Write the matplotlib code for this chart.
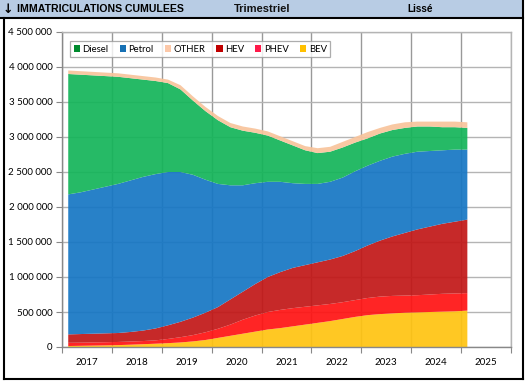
import matplotlib
matplotlib.use("Agg")
import matplotlib.pyplot as plt
import numpy as np
from matplotlib.patches import Rectangle
from matplotlib.lines import Line2D
from matplotlib.ticker import FuncFormatter, FixedLocator

# ---------------- data (cumulative tops, in millions) -------------
years = ["2017", "2018", "2019", "2020", "2021", "2022", "2023", "2024", "2025"]
n_quarters = 33  # 2017Q1 .. 2025Q1

bev_top = [0.014, 0.017, 0.020, 0.023, 0.027, 0.033, 0.040, 0.047, 0.055, 0.065, 0.080,
           0.100, 0.130, 0.160, 0.190, 0.220, 0.250, 0.270, 0.295, 0.320, 0.345, 0.370,
           0.400, 0.430, 0.455, 0.470, 0.480, 0.490, 0.495, 0.500, 0.505, 0.510, 0.520]
phev_top = [0.060, 0.062, 0.065, 0.068, 0.072, 0.078, 0.085, 0.095, 0.115, 0.140, 0.170,
            0.210, 0.260, 0.320, 0.390, 0.450, 0.500, 0.530, 0.555, 0.575, 0.595, 0.615,
            0.640, 0.670, 0.700, 0.720, 0.730, 0.735, 0.740, 0.750, 0.760, 0.765, 0.770]
hev_top = [0.180, 0.185, 0.190, 0.195, 0.200, 0.215, 0.235, 0.265, 0.310, 0.360, 0.420,
           0.490, 0.570, 0.680, 0.790, 0.900, 1.000, 1.070, 1.130, 1.170, 1.210, 1.250,
           1.300, 1.370, 1.450, 1.520, 1.580, 1.630, 1.680, 1.720, 1.760, 1.790, 1.820]
petrol_top = [2.18, 2.21, 2.25, 2.29, 2.33, 2.38, 2.43, 2.47, 2.50, 2.50, 2.46,
              2.39, 2.33, 2.31, 2.31, 2.34, 2.36, 2.36, 2.34, 2.33, 2.33, 2.36,
              2.42, 2.51, 2.59, 2.66, 2.72, 2.76, 2.79, 2.80, 2.81, 2.82, 2.82]
diesel_top = [3.90, 3.89, 3.88, 3.87, 3.86, 3.84, 3.82, 3.80, 3.77, 3.68, 3.52,
              3.37, 3.24, 3.14, 3.09, 3.06, 3.02, 2.95, 2.88, 2.81, 2.77, 2.79,
              2.85, 2.92, 2.98, 3.05, 3.10, 3.13, 3.15, 3.15, 3.14, 3.14, 3.13]
other_top = [3.95, 3.94, 3.93, 3.92, 3.91, 3.89, 3.87, 3.85, 3.82, 3.74, 3.58,
             3.43, 3.30, 3.20, 3.15, 3.12, 3.08, 3.01, 2.94, 2.87, 2.84, 2.86,
             2.93, 3.00, 3.07, 3.13, 3.18, 3.21, 3.22, 3.22, 3.22, 3.22, 3.21]

series_names = ["Diesel", "Petrol", "OTHER", "HEV", "PHEV", "BEV"]
fill_colors = {"BEV": "#ffc412", "PHEV": "#ff1414", "HEV": "#c21818",
               "Petrol": "#1777c4", "Diesel": "#15b55a", "OTHER": "#f8c49c"}
legend_colors = {"Diesel": "#008a2e", "Petrol": "#1670b4", "OTHER": "#fcc8a8",
                 "HEV": "#c00000", "PHEV": "#ff1a4a", "BEV": "#ffc000"}

# ---------------- derive layers ----------------
tops = {"BEV": np.array(bev_top), "PHEV": np.array(phev_top), "HEV": np.array(hev_top),
        "Petrol": np.array(petrol_top), "Diesel": np.array(diesel_top),
        "OTHER": np.array(other_top)}
order = ["BEV", "PHEV", "HEV", "Petrol", "Diesel", "OTHER"]
layers = []
prev = np.zeros(n_quarters)
for k in order:
    layers.append((tops[k] - prev) * 1e6)
    prev = tops[k]

x = np.arange(n_quarters) / 4.0 + 0.125

# ---------------- figure ----------------
W, H = 529, 385
fig = plt.figure(figsize=(W / 100, H / 100), dpi=100)
fig.patch.set_facecolor("white")

def fx(px):
    return px / W

def fy(py):
    return 1 - py / H

# title bar
fig.add_artist(Rectangle((0, fy(18)), fx(523), 18 / H, transform=fig.transFigure,
                         facecolor="#b8cce4", edgecolor="none", zorder=0))
for (x0, y0, x1, y1) in [(0, 18, 523, 18), (4, 18, 4, 379), (4, 379, 523, 379),
                         (523, 0, 523, 379)]:
    fig.add_artist(Line2D([fx(x0), fx(x1)], [fy(y0), fy(y1)], transform=fig.transFigure,
                          color="black", linewidth=1.5, zorder=5))

tfont = ["Liberation Sans", "DejaVu Sans"]
fig.text(fx(3), fy(9.5), "↓", family=["DejaVu Sans"], fontweight="bold",
         fontsize=9, va="center", ha="left")
fig.text(fx(17), fy(9.5), "IMMATRICULATIONS CUMULEES", family=tfont, fontweight="bold",
         fontsize=7.6, va="center", ha="left")
fig.text(fx(262), fy(9), "Trimestriel", family=tfont, fontweight="bold",
         fontsize=8, va="center", ha="center", color="#111111")
fig.text(fx(420), fy(9.5), "Lissé", family=tfont, fontweight="bold",
         fontsize=7.2, va="center", ha="center")

ax = fig.add_axes([fx(62), fy(347), fx(511) - fx(62), (347 - 32) / H])
ax.set_facecolor("white")

ax.stackplot(x, *layers, colors=[fill_colors[k] for k in order], alpha=0.93,
             linewidth=0, zorder=2)

ax.set_xlim(0, 9)
ax.set_ylim(0, 4.5e6)
ax.set_yticks(np.arange(0, 4.5e6 + 1, 5e5))
ax.yaxis.set_major_formatter(FuncFormatter(lambda v, p: f"{v:,.0f}".replace(",", " ")))

ax.xaxis.set_major_locator(FixedLocator(np.arange(0, 10)))
ax.xaxis.set_minor_locator(FixedLocator(np.arange(0.5, 9, 1)))
ax.set_xticklabels([], minor=False)
ax.set_xticklabels(years, minor=True)
ax.tick_params(axis="x", which="major", length=4, color="#888888", direction="out")
ax.tick_params(axis="x", which="minor", length=0, pad=8, labelsize=7, labelcolor="black")
ax.tick_params(axis="y", length=4, color="#888888", direction="out", labelsize=7, pad=3)
for lbl in ax.get_xticklabels(minor=True) + ax.get_yticklabels():
    lbl.set_family("Lato")

ax.set_axisbelow(True)
ax.grid(True, axis="y", color="#b4b4b4", linewidth=1, zorder=1)
ax.grid(True, axis="x", which="major", color="#999999", linewidth=1, zorder=1)
for s in ["left", "bottom"]:
    ax.spines[s].set_color("#888888")
    ax.spines[s].set_linewidth(1)
for s in ["top", "right"]:
    ax.spines[s].set_color("#b4b4b4")
    ax.spines[s].set_linewidth(1)

handles = [Rectangle((0, 0), 1, 1, facecolor=legend_colors[k], edgecolor="none")
           for k in series_names]
leg = ax.legend(handles, series_names, loc="upper left", bbox_to_anchor=(0.008, 0.985),
                ncol=6, frameon=True, fancybox=False, handlelength=0.65,
                handleheight=0.65, handletextpad=0.3, columnspacing=1.15,
                borderpad=0.35, prop={"family": "Lato", "size": 6.8})
leg.get_frame().set_edgecolor("#999999")
leg.get_frame().set_linewidth(0.9)
leg.set_zorder(10)

fig.savefig("out.png", dpi=100, facecolor="white")
